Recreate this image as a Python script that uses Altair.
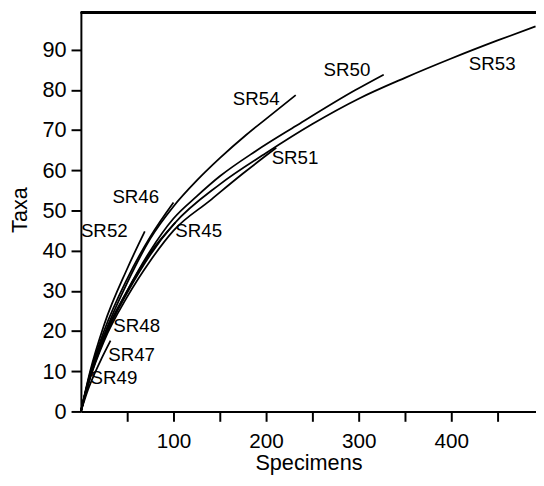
import altair as alt
import pandas as pd

# ---- data (Specimens -> Taxa) ----
SR54_x = [0, 10, 25, 50, 75, 100, 125, 150, 179, 200, 232]
SR54_y = [0, 9.3, 19, 32, 43, 51, 57.4, 63, 68.9, 72.8, 78.7]

SR50_x = [0, 10, 25, 50, 75, 100, 125, 150, 189, 232, 296, 327]
SR50_y = [0, 8.8, 18.5, 30, 40, 48, 53.5, 58.5, 64.8, 71, 79.9, 83.8]

SR53_x = [0, 10, 25, 50, 75, 100, 150, 200, 250, 300, 350, 400, 450, 491]
SR53_y = [0, 8.5, 18, 29.5, 39, 46.5, 56.5, 64.3, 71.5, 77.8, 83, 87.8, 92.3, 95.8]

SR51_x = [0, 10, 25, 50, 75, 100, 139, 175, 211]
SR51_y = [0, 8.3, 17.5, 28.5, 37.5, 45, 52.4, 59.2, 65.6]

SR46_x = [0, 10, 25, 50, 75, 100]
SR46_y = [0, 9.5, 20, 33, 43.5, 52]

SR52_x = [0, 10, 25, 50, 69]
SR52_y = [0, 10, 21.5, 35.5, 44.8]

SR45_x = [0, 10, 25, 50, 75, 102]
SR45_y = [0, 8.7, 18.5, 30, 39.5, 47]

SR48_x = [0, 10, 20, 32]
SR48_y = [0, 9, 15.8, 22]

SR47_x = [0, 7, 14, 22, 32]
SR47_y = [0, 5, 9, 13, 17.6]

SR49_x = [0, 4, 8, 12]
SR49_y = [0, 3.8, 7.2, 10.3]

curve_names = ["SR54", "SR50", "SR53", "SR51", "SR46", "SR52", "SR45", "SR48", "SR47", "SR49"]
curve_xs = [SR54_x, SR50_x, SR53_x, SR51_x, SR46_x, SR52_x, SR45_x, SR48_x, SR47_x, SR49_x]
curve_ys = [SR54_y, SR50_y, SR53_y, SR51_y, SR46_y, SR52_y, SR45_y, SR48_y, SR47_y, SR49_y]

label_names = ["SR54", "SR50", "SR53", "SR51", "SR46", "SR52", "SR45", "SR48", "SR47", "SR49"]
label_x = [164, 262, 419, 206, 34, 0, 102, 35, 29.5, 10.5]
label_y = [77.7, 85, 86.5, 63, 53.4, 44.9, 44.9, 21.3, 14, 8.3]

x_ticks = [50, 100, 150, 200, 250, 300, 350, 400, 450]
y_ticks = [0, 10, 20, 30, 40, 50, 60, 70, 80, 90]

rows = []
for name, xs, ys in zip(curve_names, curve_xs, curve_ys):
    for xv, yv in zip(xs, ys):
        rows.append({"curve": name, "specimens": xv, "taxa": yv})
lines_df = pd.DataFrame(rows)
labels_df = pd.DataFrame({"name": label_names, "x": label_x, "y": label_y})

W, H = 462, 406
FONT = "Liberation Sans"

xscale = alt.Scale(domain=[0, 491.5], nice=False, zero=False)
yscale = alt.Scale(domain=[0, 99.5], nice=False)

lines = alt.Chart(lines_df).mark_line(
    color="black", strokeWidth=1.8, interpolate="monotone"
).encode(
    x=alt.X("specimens:Q", scale=xscale,
            axis=alt.Axis(title="Specimens", values=x_ticks,
                          labelExpr="datum.value % 100 == 0 ? datum.label : ''",
                          labelFontSize=21, labelPadding=10,
                          titleY=59, titleBaseline="alphabetic")),
    y=alt.Y("taxa:Q", scale=yscale,
            axis=alt.Axis(title="Taxa", values=y_ticks,
                          titleX=-55, titleY=201, titleBaseline="alphabetic")),
    detail="curve:N",
)

texts = alt.Chart(labels_df).mark_text(
    align="left", baseline="middle", fontSize=19, font=FONT, color="black"
).encode(
    x=alt.X("x:Q", scale=xscale),
    y=alt.Y("y:Q", scale=yscale),
    text="name:N",
)

top = alt.Chart(labels_df).mark_rule(color="black", strokeWidth=2).encode(
    x=alt.value(0), x2=alt.value(W), y=alt.value(1)
)

chart = alt.layer(lines, texts, top).properties(
    width=W, height=H,
    autosize=alt.AutoSizeParams(type="none"),
    padding={"left": 74, "top": 0, "right": 0, "bottom": 64},
).configure_view(stroke=None).configure_axis(
    grid=False,
    domainColor="black", domainWidth=2,
    tickColor="black", tickWidth=2, tickSize=10,
    labelFont=FONT, labelFontSize=22, labelColor="black",
    titleFont=FONT, titleFontSize=22, titleColor="black", titleFontWeight="normal",
    labelPadding=5,
)

chart.save("out.html", embed_options={"renderer": "svg", "actions": False})
